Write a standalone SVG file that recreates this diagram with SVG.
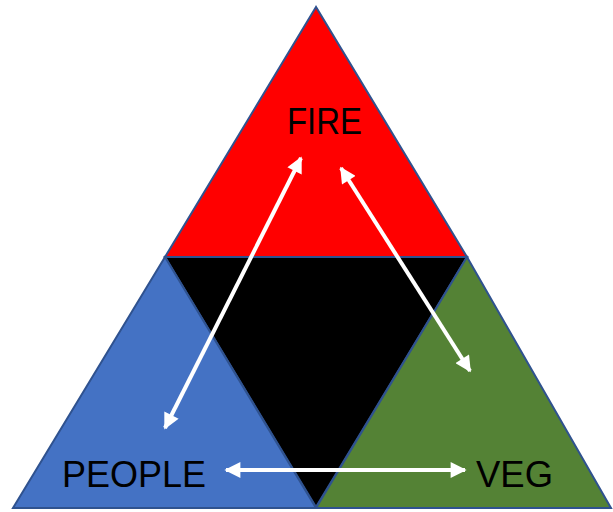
<svg xmlns="http://www.w3.org/2000/svg" width="613" height="512" viewBox="0 0 613 512">
<style>
.tri{stroke:#2F528F;stroke-width:2;stroke-linejoin:miter}
.lbl{font-family:"Liberation Sans",Arial,sans-serif;font-size:37px;fill:#000}
.arr{stroke:#fff;stroke-width:4;fill:none;marker-start:url(#h);marker-end:url(#h)}
</style>
<defs>
<marker id="h" viewBox="0 0 10 10" refX="9" refY="5" markerWidth="4.2" markerHeight="4" orient="auto-start-reverse" markerUnits="strokeWidth">
<path d="M0,0 L10,5 L0,10 Z" fill="#fff"/>
</marker>
</defs>
<rect width="613" height="512" fill="#fff"/>
<g id="center"><polygon class="tri" points="165,257 467,257 316,507" fill="#000"/></g>
<g id="fire"><polygon class="tri" points="316,7 165,257 467,257" fill="#FF0000"/><text class="lbl" x="287" y="134" textLength="75" lengthAdjust="spacingAndGlyphs">FIRE</text></g>
<g id="people"><polygon class="tri" points="165,257 13,508 316,508" fill="#4472C4"/><text class="lbl" x="62" y="487" textLength="144" lengthAdjust="spacingAndGlyphs">PEOPLE</text></g>
<g id="veg"><polygon class="tri" points="467,257 316,508 611,508" fill="#548235"/><text class="lbl" x="476" y="487" textLength="77" lengthAdjust="spacingAndGlyphs">VEG</text></g>
<g id="connectors">
<line class="arr" x1="301" y1="158" x2="165" y2="428"/>
<line class="arr" x1="341" y1="168" x2="470" y2="371"/>
<line class="arr" x1="226" y1="470" x2="465" y2="470"/>
</g>
</svg>
